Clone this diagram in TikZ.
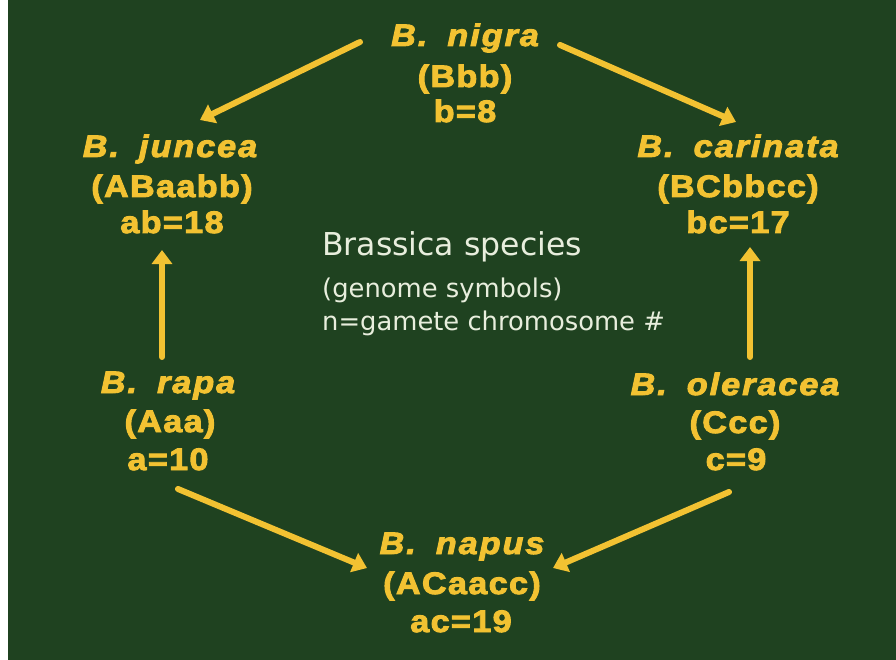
\documentclass[tikz,border=0pt]{standalone}
\usepackage{fontspec}
\usetikzlibrary{arrows.meta,calc}
\newfontfamily\yfont{Liberation Sans}[LetterSpace=4.5,FakeStretch=1.1,FakeBold=3]
\newfontfamily\ynamefont{Liberation Sans}[LetterSpace=6.5,FakeStretch=1.1,FakeBold=3]
\newfontfamily\cfont{DejaVu Sans}
\definecolor{bg}{HTML}{1F4220}
\definecolor{gold}{HTML}{F2C232}
\definecolor{chalk}{HTML}{E8EEDD}
\begin{document}
\begin{tikzpicture}[x=1pt,y=-1pt,
  lbl/.style={text=gold, anchor=base, inner sep=0pt, font=\yfont\bfseries\fontsize{31}{36}\selectfont},
  nm/.style={text=gold, anchor=base, inner sep=0pt, font=\ynamefont\bfseries\itshape\fontsize{31}{36}\selectfont},
  ctext/.style={text=chalk, anchor=base west, inner sep=0pt},
  arr/.style={draw=gold, line width=6pt, line cap=round, -{Triangle[length=14pt,width=20pt]}}]
\fill[bg] (0,0) rectangle (896,660);
\fill[white] (0,0) rectangle (8,660);
\useasboundingbox (0,0) rectangle (896,660);

% B. nigra
\node[nm]  (nig)  at (465,46)  {B.\hspace{0.65em}nigra};
\node[lbl] (nigG) at (465,87)  {(Bbb)};
\node[lbl] (nigN) at (465,122) {b=8};
% B. juncea
\node[nm]  (jun)  at (170,157) {B.\hspace{0.65em}juncea};
\node[lbl] (junG) at (172,197) {(ABaabb)};
\node[lbl] (junN) at (172,233) {ab=18};
% B. carinata
\node[nm]  (car)  at (738,157) {B.\hspace{0.65em}carinata};
\node[lbl] (carG) at (738,197) {(BCbbcc)};
\node[lbl] (carN) at (738,233) {bc=17};
% B. rapa
\node[nm]  (rap)  at (168,393) {B.\hspace{0.65em}rapa};
\node[lbl] (rapG) at (170,432) {(Aaa)};
\node[lbl] (rapN) at (168,470) {a=10};
% B. oleracea
\node[nm]  (ole)  at (735,395) {B.\hspace{0.65em}oleracea};
\node[lbl] (oleG) at (735,433) {(Ccc)};
\node[lbl] (oleN) at (736,470) {c=9};
% B. napus
\node[nm]  (nap)  at (462,554) {B.\hspace{0.65em}napus};
\node[lbl] (napG) at (462,594) {(ACaacc)};
\node[lbl] (napN) at (461,632) {ac=19};

% centre text
\node[ctext, font=\cfont\fontsize{31.5}{36}\selectfont] (t1) at (322,255) {Brassica species};
\node[ctext, font=\cfont\fontsize{25.8}{30}\selectfont] (t2) at (322,297) {(genome symbols)};
\node[ctext, font=\cfont\fontsize{25.8}{30}\selectfont] (t3) at (322,330) {n=gamete chromosome \#};

% arrows
\draw[arr] ([shift={(-105,-4)}]nig.base) -- ([shift={(30,-37)}]jun.base);
\draw[arr] ([shift={(95,-1)}]nig.base) -- ([shift={(-2,-35)}]car.base);
\draw[arr] ([shift={(-6,-36)}]rap.base) -- ([shift={(-10,17)}]junN.base);
\draw[arr] ([shift={(15,-38)}]ole.base) -- ([shift={(12,14)}]carN.base);
\draw[arr] ([shift={(10,19)}]rapN.base) -- ([shift={(-95,14)}]nap.base);
\draw[arr] ([shift={(-7,22)}]oleN.base) -- ([shift={(91,14)}]nap.base);
\end{tikzpicture}
\end{document}
